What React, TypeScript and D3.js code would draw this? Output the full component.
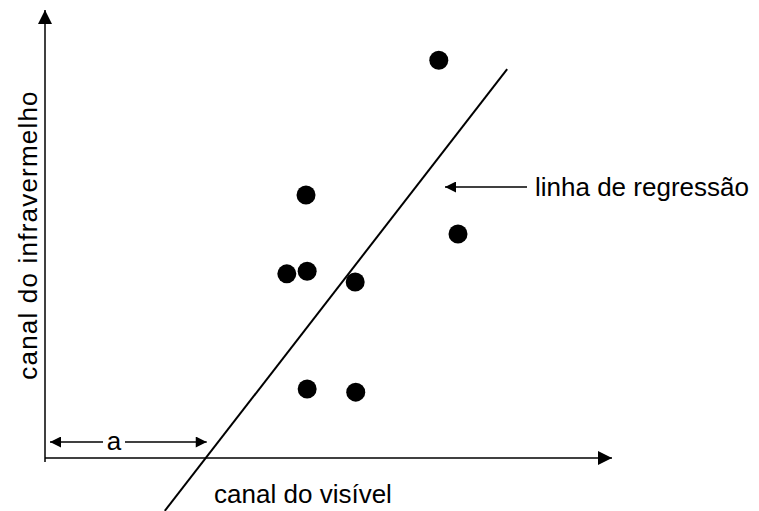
import React from 'react';
import * as d3 from 'd3';

// scatter points (visible vs infrared), in axis units 0..100
const visivel = [69.7, 46.2, 73.1, 42.8, 46.4, 54.9, 46.4, 55.0];
const infra = [88.8, 58.7, 50.0, 41.1, 41.7, 39.3, 15.4, 14.7];

// regression line end points
const regX = [21.2, 81.8];
const regY = [-11.8, 86.8];
const intercept = 28.8; // "a"

const xTitle = 'canal do visível';
const yTitle = 'canal do infravermelho';
const lineLabel = 'linha de regressão';
const aLabel = 'a';

const W = 759;
const H = 511;

const App = () => {
  const x = d3.scaleLinear().domain([0, 100]).range([45, 610]);
  const y = d3.scaleLinear().domain([0, 100]).range([458, 10]);
  const font = "'Liberation Sans', Arial, sans-serif";

  const line = d3
    .line<number>()
    .x((_, i) => x(regX[i]))
    .y((_, i) => y(regY[i]));

  const x0 = x(0);
  const y0 = y(0);
  const aY = 442;
  const labelY = 187;

  return (
    <svg width={W} height={H} style={{ position: 'absolute', left: 0, top: 0, background: '#fff' }}>
      <defs>
        <marker id="arr" viewBox="0 0 10 10" refX="10" refY="5" markerWidth="14" markerHeight="14" markerUnits="userSpaceOnUse" orient="auto-start-reverse">
          <path d="M0,0 L10,5 L0,10 z" fill="#000" />
        </marker>
        <marker id="arrs" viewBox="0 0 10 10" refX="10" refY="5" markerWidth="12" markerHeight="11" markerUnits="userSpaceOnUse" orient="auto-start-reverse">
          <path d="M0,0 L10,5 L0,10 z" fill="#000" />
        </marker>
      </defs>

      {/* axes */}
      <line x1={x0} y1={y0 + 4} x2={x0} y2={y(100)} stroke="#000" strokeWidth={1.5} markerEnd="url(#arr)" />
      <line x1={x0} y1={y0} x2={x(100) + 2} y2={y0} stroke="#000" strokeWidth={1.5} markerEnd="url(#arr)" />

      {/* intercept dimension */}
      <line x1={x0 + 5} y1={aY} x2={x0 + 58} y2={aY} stroke="#000" strokeWidth={1.3} markerStart="url(#arrs)" />
      <line x1={x0 + 80} y1={aY} x2={x(intercept) - 1} y2={aY} stroke="#000" strokeWidth={1.3} markerEnd="url(#arrs)" />
      <text x={x0 + 69} y={aY + 8} fontFamily={font} fontSize={26} textAnchor="middle" fill="#000">{aLabel}</text>

      {/* regression line */}
      <path d={line(regX) || ''} fill="none" stroke="#000" strokeWidth={2} />

      {/* points */}
      {visivel.map((v, i) => (
        <circle key={i} cx={x(v)} cy={y(infra[i])} r={9.5} fill="#000" />
      ))}

      {/* regression label */}
      <line x1={527} y1={labelY} x2={445} y2={labelY} stroke="#000" strokeWidth={1.3} markerEnd="url(#arrs)" />
      <text x={535} y={196} fontFamily={font} fontSize={26} fill="#000">{lineLabel}</text>

      {/* axis titles */}
      <text x={303} y={503} fontFamily={font} fontSize={26} textAnchor="middle" fill="#000">{xTitle}</text>
      <text transform="translate(37,235) rotate(-90)" fontFamily={font} fontSize={26} letterSpacing={1.2} textAnchor="middle" fill="#000">{yTitle}</text>
    </svg>
  );
};

export default App;
